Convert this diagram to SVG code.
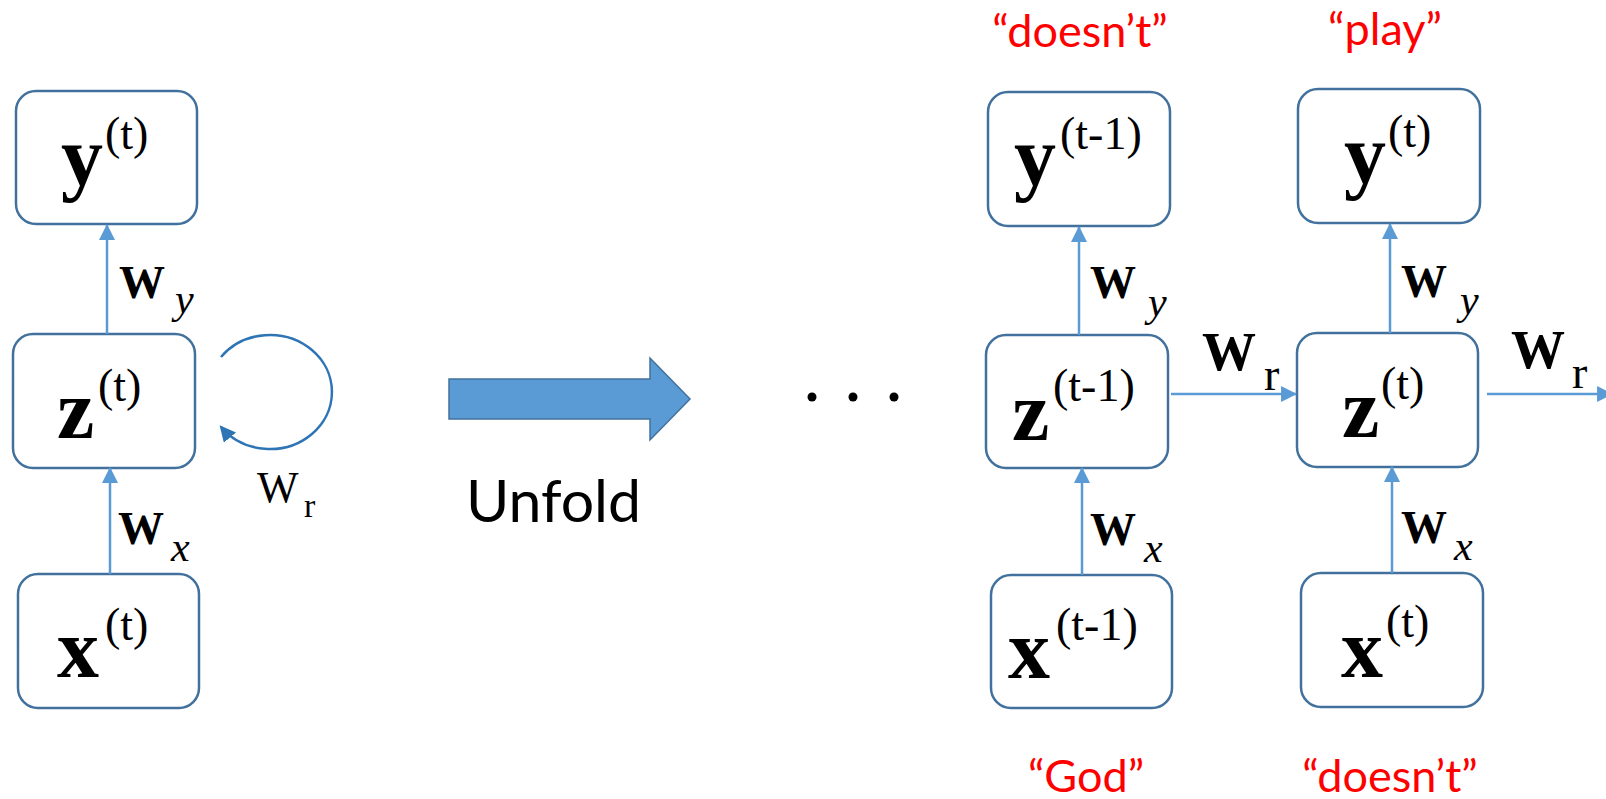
<svg xmlns="http://www.w3.org/2000/svg" width="1606" height="799" viewBox="0 0 1606 799">
  <style>
    .box { fill: #ffffff; stroke: #41719C; stroke-width: 2.5; }
    .main { font-family: "Liberation Serif", "Times New Roman", serif; font-weight: bold; font-size: 84px; fill: #000; }
    .sup { font-family: "Liberation Serif", "Times New Roman", serif; font-weight: normal; font-size: 46px; fill: #000; }
    .w { font-family: "Liberation Serif", "Times New Roman", serif; font-weight: bold; font-size: 46px; fill: #000; }
    .wr { font-family: "Liberation Serif", "Times New Roman", serif; font-weight: normal; fill: #000; }
    .sub { font-family: "Liberation Serif", "Times New Roman", serif; font-style: italic; font-size: 42px; fill: #000; }
    .subr { font-family: "Liberation Serif", "Times New Roman", serif; font-size: 46px; fill: #000; }
    .conn { fill: none; stroke: #5B9BD5; stroke-width: 2.5; }
    .loop { fill: none; stroke: #2E75B6; stroke-width: 2.5; }
    .word { font-family: Lato, "Liberation Sans", sans-serif; font-size: 45px; fill: #FF0000; text-anchor: middle; }
    .label { font-family: Lato, "Liberation Sans", sans-serif; font-size: 59px; fill: #000; }
  </style>
  <defs>
    <marker id="head" markerUnits="userSpaceOnUse" markerWidth="16" markerHeight="16" viewBox="0 0 15 15" refX="14" refY="7.5" orient="auto">
      <path d="M0,0 L15,7.5 L0,15 z" fill="#5B9BD5"/>
    </marker>
    <marker id="headDark" markerUnits="userSpaceOnUse" markerWidth="16" markerHeight="16" viewBox="0 0 15 15" refX="13" refY="7.5" orient="auto">
      <path d="M0,0 L15,7.5 L0,15 z" fill="#2E75B6"/>
    </marker>
  </defs>

  <rect width="1606" height="799" fill="#ffffff"/>

  <!-- folded network -->
  <g id="y-fold">
    <rect class="box" x="16" y="91" width="181" height="133" rx="20"/>
    <text class="main" x="61" y="185">y</text>
    <text class="sup" x="105" y="149">(t)</text>
  </g>
  <g id="z-fold">
    <rect class="box" x="13" y="334" width="182" height="134" rx="20"/>
    <text class="main" x="57" y="438">z</text>
    <text class="sup" x="98" y="401">(t)</text>
  </g>
  <g id="x-fold">
    <rect class="box" x="18" y="574" width="181" height="134" rx="20"/>
    <text class="main" x="57" y="677">x</text>
    <text class="sup" x="105" y="640">(t)</text>
  </g>

  <!-- unfold arrow -->
  <g id="unfold">
    <polygon points="449,379 650,379 650,358 690,399 650,440 650,419 449,419" fill="#5B9BD5" stroke="#41719C" stroke-width="1.5"/>
    <text class="label" x="466" y="522">Unfold</text>
  </g>

  <!-- ellipsis -->
  <g id="ellipsis" fill="#000">
    <circle cx="812" cy="397" r="4.5"/>
    <circle cx="853" cy="397" r="4.5"/>
    <circle cx="894" cy="397" r="4.5"/>
  </g>

  <!-- unfolded network, step t-1 -->
  <g id="y-prev">
    <rect class="box" x="988" y="92" width="182" height="134" rx="20"/>
    <text class="main" x="1014" y="185">y</text>
    <text class="sup" x="1060" y="149">(t-1)</text>
  </g>
  <g id="z-prev">
    <rect class="box" x="986" y="335" width="182" height="133" rx="20"/>
    <text class="main" x="1012" y="440">z</text>
    <text class="sup" x="1053" y="401">(t-1)</text>
  </g>
  <g id="x-prev">
    <rect class="box" x="991" y="575" width="181" height="133" rx="20"/>
    <text class="main" x="1008" y="678">x</text>
    <text class="sup" x="1056" y="640">(t-1)</text>
  </g>

  <!-- unfolded network, step t -->
  <g id="y-cur">
    <rect class="box" x="1298" y="89" width="182" height="134" rx="20"/>
    <text class="main" x="1344" y="183">y</text>
    <text class="sup" x="1388" y="147">(t)</text>
  </g>
  <g id="z-cur">
    <rect class="box" x="1297" y="333" width="181" height="134" rx="20"/>
    <text class="main" x="1342" y="437">z</text>
    <text class="sup" x="1381" y="399">(t)</text>
  </g>
  <g id="x-cur">
    <rect class="box" x="1301" y="573" width="182" height="134" rx="20"/>
    <text class="main" x="1341" y="677">x</text>
    <text class="sup" x="1386" y="637">(t)</text>
  </g>

  <!-- word tokens -->
  <g id="words">
    <text class="word" x="1080" y="47">“doesn’t”</text>
    <text class="word" x="1385" y="45">“play”</text>
    <text class="word" x="1086" y="792">“God”</text>
    <text class="word" x="1390" y="792">“doesn’t”</text>
  </g>

  <!-- connectors -->
  <g id="connectors">
    <line class="conn" x1="107" y1="334" x2="107" y2="225" marker-end="url(#head)"/>
    <line class="conn" x1="110" y1="574" x2="110" y2="468" marker-end="url(#head)"/>
    <path class="loop" d="M221,357 A62,57 0 1 1 221,427" marker-end="url(#headDark)"/>

    <line class="conn" x1="1079" y1="335" x2="1079" y2="227" marker-end="url(#head)"/>
    <line class="conn" x1="1082" y1="575" x2="1082" y2="468" marker-end="url(#head)"/>
    <line class="conn" x1="1390" y1="333" x2="1390" y2="224" marker-end="url(#head)"/>
    <line class="conn" x1="1392" y1="573" x2="1392" y2="467" marker-end="url(#head)"/>
    <line class="conn" x1="1171" y1="394" x2="1296" y2="394" marker-end="url(#head)"/>
    <line class="conn" x1="1487" y1="394" x2="1612" y2="394" marker-end="url(#head)"/>
  </g>

  <!-- weight labels -->
  <g id="weights">
    <text class="w" x="119" y="298">W</text><text class="sub" x="175" y="313">y</text>
    <text class="w" x="118" y="544">W</text><text class="sub" x="171" y="561">x</text>
    <text class="wr" x="257" y="502" style="font-size:44px">W</text><text class="wr" x="304" y="517" style="font-size:34px">r</text>

    <text class="w" x="1090" y="298">W</text><text class="sub" x="1148" y="316">y</text>
    <text class="w" x="1090" y="545">W</text><text class="sub" x="1144" y="562">x</text>
    <text class="w" x="1401" y="297">W</text><text class="sub" x="1460" y="314">y</text>
    <text class="w" x="1401" y="543">W</text><text class="sub" x="1454" y="560">x</text>

    <text class="w" x="1202" y="370" style="font-size:54px">W</text><text class="subr" x="1264" y="390">r</text>
    <text class="w" x="1511" y="368" style="font-size:54px">W</text><text class="subr" x="1572" y="388">r</text>
  </g>
</svg>
